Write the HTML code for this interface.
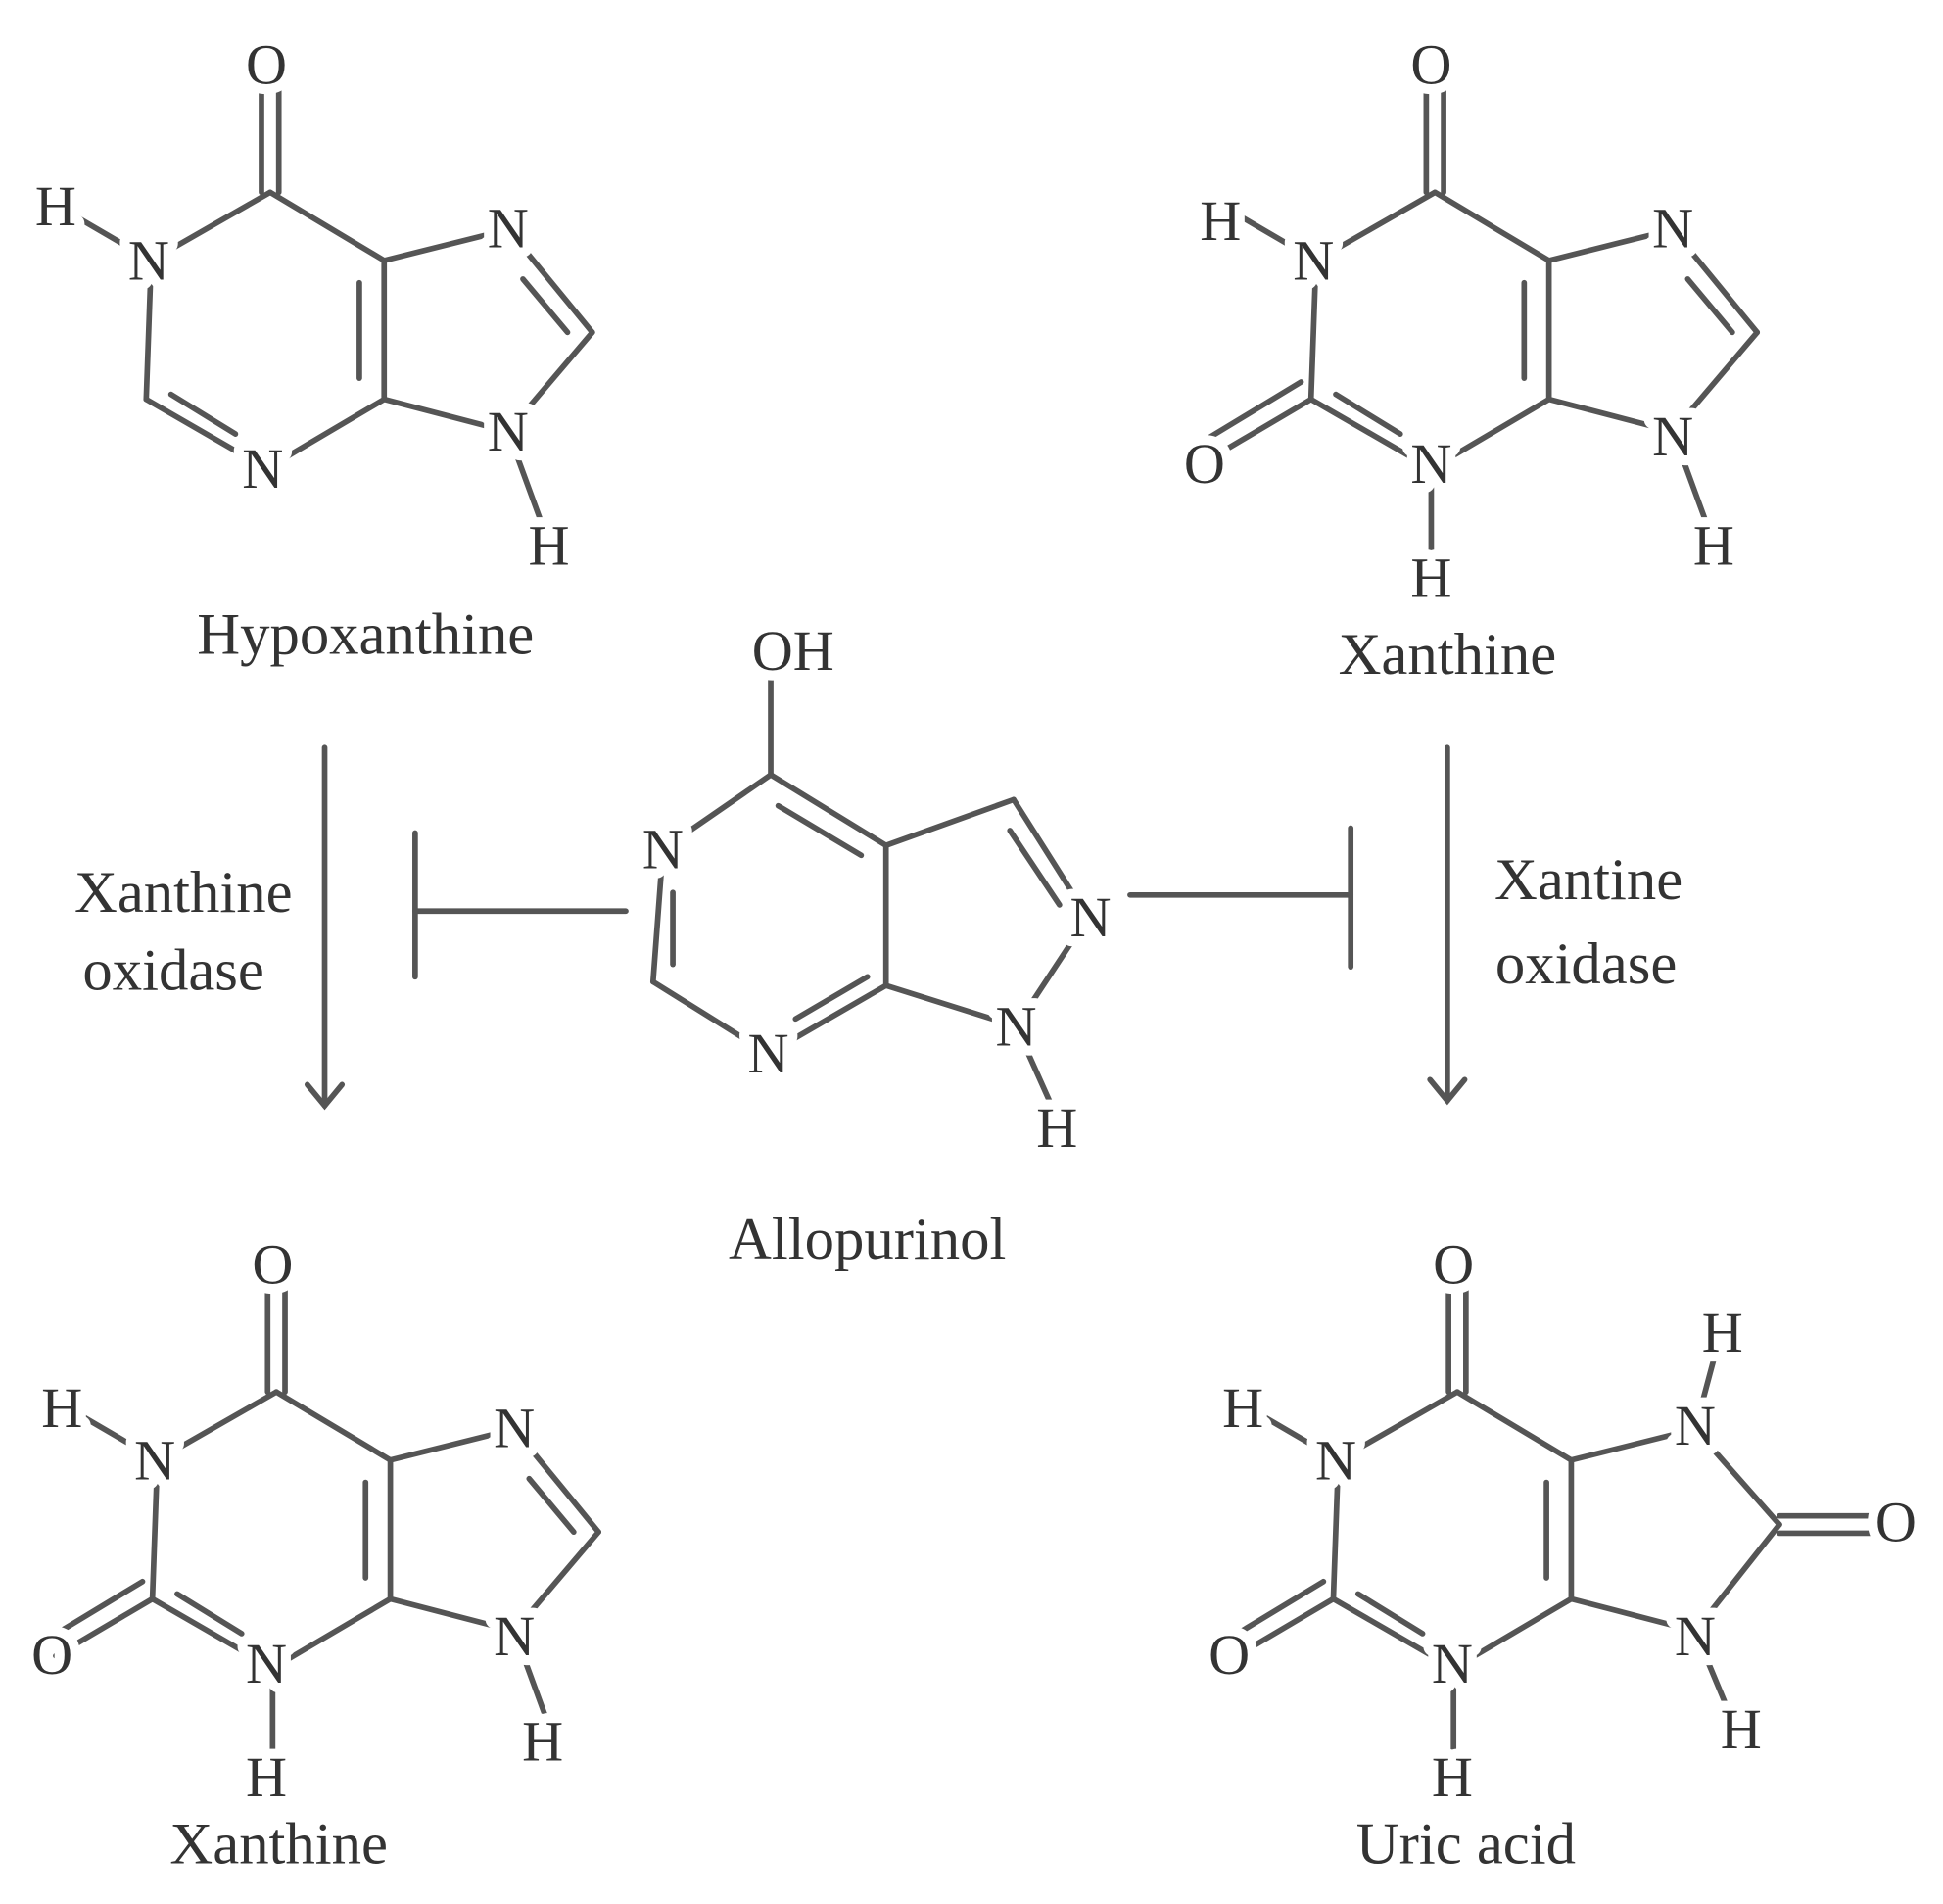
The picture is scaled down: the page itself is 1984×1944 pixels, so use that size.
<!DOCTYPE html>
<html><head><meta charset="utf-8"><style>
html,body{margin:0;padding:0;background:#fff}
svg{display:block}
text{font-family:"Liberation Serif",serif;fill:#333;text-anchor:middle;dominant-baseline:central}
.a{font-size:46px;stroke:#fff;stroke-width:16px;paint-order:stroke;stroke-linejoin:round}
.l{font-size:48px}
line,polyline{stroke:#555;stroke-width:4.5;fill:none;stroke-linecap:round}
</style></head><body>
<svg width="1984" height="1944" viewBox="0 0 1568 1536" xmlns="http://www.w3.org/2000/svg">
<defs>
<g id="purine">
<line x1="211" y1="70" x2="211" y2="155"/><line x1="225" y1="70" x2="225" y2="155"/>
<line x1="218" y1="155" x2="122" y2="210"/>
<line x1="218" y1="155" x2="310" y2="210"/>
<line x1="310" y1="210" x2="410" y2="185"/>
<line x1="310" y1="210" x2="310" y2="322"/><line x1="290" y1="228" x2="290" y2="305"/>
<line x1="310" y1="322" x2="410" y2="348"/>
<line x1="310" y1="322" x2="215" y2="378"/>
<line x1="215" y1="378" x2="118" y2="322"/><line x1="190" y1="350" x2="138" y2="318"/>
<line x1="118" y1="322" x2="122" y2="210"/>
<line x1="122" y1="210" x2="50" y2="168"/>
</g>
<g id="imid">
<line x1="410" y1="185" x2="478" y2="268"/><line x1="422" y1="225" x2="458" y2="268"/>
<line x1="478" y1="268" x2="410" y2="348"/>
<line x1="410" y1="348" x2="440" y2="430"/>
</g>
</defs>

<!-- Hypoxanthine -->
<use href="#purine"/><use href="#imid"/>
<text class="a" x="215" y="52">O</text>
<text class="a" x="120" y="210">N</text>
<text class="a" x="45" y="166">H</text>
<text class="a" x="410" y="184">N</text>
<text class="a" x="410" y="348">N</text>
<text class="a" x="443" y="440">H</text>
<text class="a" x="212" y="378">N</text>
<text class="l" x="295" y="512">Hypoxanthine</text>

<!-- Xanthine top -->
<g transform="translate(940,0)">
<use href="#purine"/><use href="#imid"/>
<line x1="215" y1="378" x2="215" y2="460"/>
<line x1="118" y1="322" x2="40" y2="368"/><line x1="110" y1="308" x2="34" y2="354"/>
<text class="a" x="215" y="52">O</text>
<text class="a" x="120" y="210">N</text>
<text class="a" x="45" y="178">H</text>
<text class="a" x="410" y="184">N</text>
<text class="a" x="410" y="352">N</text>
<text class="a" x="443" y="440">H</text>
<text class="a" x="215" y="374">N</text>
<text class="a" x="215" y="466">H</text>
<text class="a" x="32" y="374">O</text>
</g>
<text class="l" x="1168" y="528">Xanthine</text>

<!-- Xanthine bottom -->
<g transform="translate(5,968)">
<use href="#purine"/><use href="#imid"/>
<line x1="215" y1="378" x2="215" y2="460"/>
<line x1="118" y1="322" x2="40" y2="368"/><line x1="110" y1="308" x2="34" y2="354"/>
<text class="a" x="215" y="52">O</text>
<text class="a" x="120" y="210">N</text>
<text class="a" x="45" y="168">H</text>
<text class="a" x="410" y="184">N</text>
<text class="a" x="410" y="352">N</text>
<text class="a" x="433" y="437">H</text>
<text class="a" x="210" y="374">N</text>
<text class="a" x="210" y="466">H</text>
<text class="a" x="37" y="367">O</text>
</g>
<text class="l" x="225" y="1488">Xanthine</text>

<!-- Uric acid -->
<g transform="translate(958,968)">
<use href="#purine"/>
<line x1="215" y1="378" x2="215" y2="460"/>
<line x1="118" y1="322" x2="40" y2="368"/><line x1="110" y1="308" x2="34" y2="354"/>
<line x1="410" y1="185" x2="478" y2="262"/>
<line x1="478" y1="262" x2="410" y2="348"/>
<line x1="478" y1="255" x2="565" y2="255"/><line x1="478" y1="269" x2="565" y2="269"/>
<line x1="410" y1="185" x2="430" y2="110"/>
<line x1="410" y1="348" x2="440" y2="420"/>
<text class="a" x="215" y="52">O</text>
<text class="a" x="120" y="210">N</text>
<text class="a" x="45" y="168">H</text>
<text class="a" x="410" y="182">N</text>
<text class="a" x="432" y="107">H</text>
<text class="a" x="572" y="260">O</text>
<text class="a" x="410" y="352">N</text>
<text class="a" x="447" y="427">H</text>
<text class="a" x="214" y="374">N</text>
<text class="a" x="214" y="466">H</text>
<text class="a" x="34" y="367">O</text>
</g>
<text class="l" x="1183" y="1488">Uric acid</text>

<!-- Allopurinol -->
<line x1="622" y1="545" x2="622" y2="625"/>
<line x1="622" y1="625" x2="535" y2="685"/>
<line x1="622" y1="625" x2="715" y2="682"/><line x1="628" y1="650" x2="695" y2="690"/>
<line x1="715" y1="682" x2="818" y2="645"/>
<line x1="818" y1="645" x2="878" y2="740"/><line x1="815" y1="670" x2="855" y2="730"/>
<line x1="878" y1="740" x2="820" y2="828"/>
<line x1="820" y1="828" x2="715" y2="795"/>
<line x1="715" y1="682" x2="715" y2="795"/>
<line x1="715" y1="795" x2="620" y2="850"/><line x1="700" y1="788" x2="642" y2="822"/>
<line x1="620" y1="850" x2="527" y2="792"/>
<line x1="527" y1="792" x2="535" y2="685"/><line x1="543" y1="720" x2="543" y2="778"/>
<line x1="820" y1="828" x2="850" y2="895"/>
<text class="a" x="640" y="525">OH</text>
<text class="a" x="535" y="685">N</text>
<text class="a" x="880" y="740">N</text>
<text class="a" x="820" y="828">N</text>
<text class="a" x="853" y="910">H</text>
<text class="a" x="620" y="850">N</text>
<text class="l" x="700" y="1000">Allopurinol</text>

<!-- Arrows -->
<line x1="262" y1="603" x2="262" y2="892"/>
<polyline points="248,875 262,892 276,875"/>
<line x1="1168" y1="603" x2="1168" y2="888"/>
<polyline points="1154,871 1168,888 1182,871"/>
<!-- Inhibition -->
<line x1="335" y1="735" x2="505" y2="735"/>
<line x1="335" y1="672" x2="335" y2="788"/>
<line x1="912" y1="722" x2="1090" y2="722"/>
<line x1="1090" y1="668" x2="1090" y2="780"/>

<text class="l" x="148" y="720">Xanthine</text>
<text class="l" x="140" y="783">oxidase</text>
<text class="l" x="1282" y="710">Xantine</text>
<text class="l" x="1280" y="778">oxidase</text>
</svg>
</body></html>
